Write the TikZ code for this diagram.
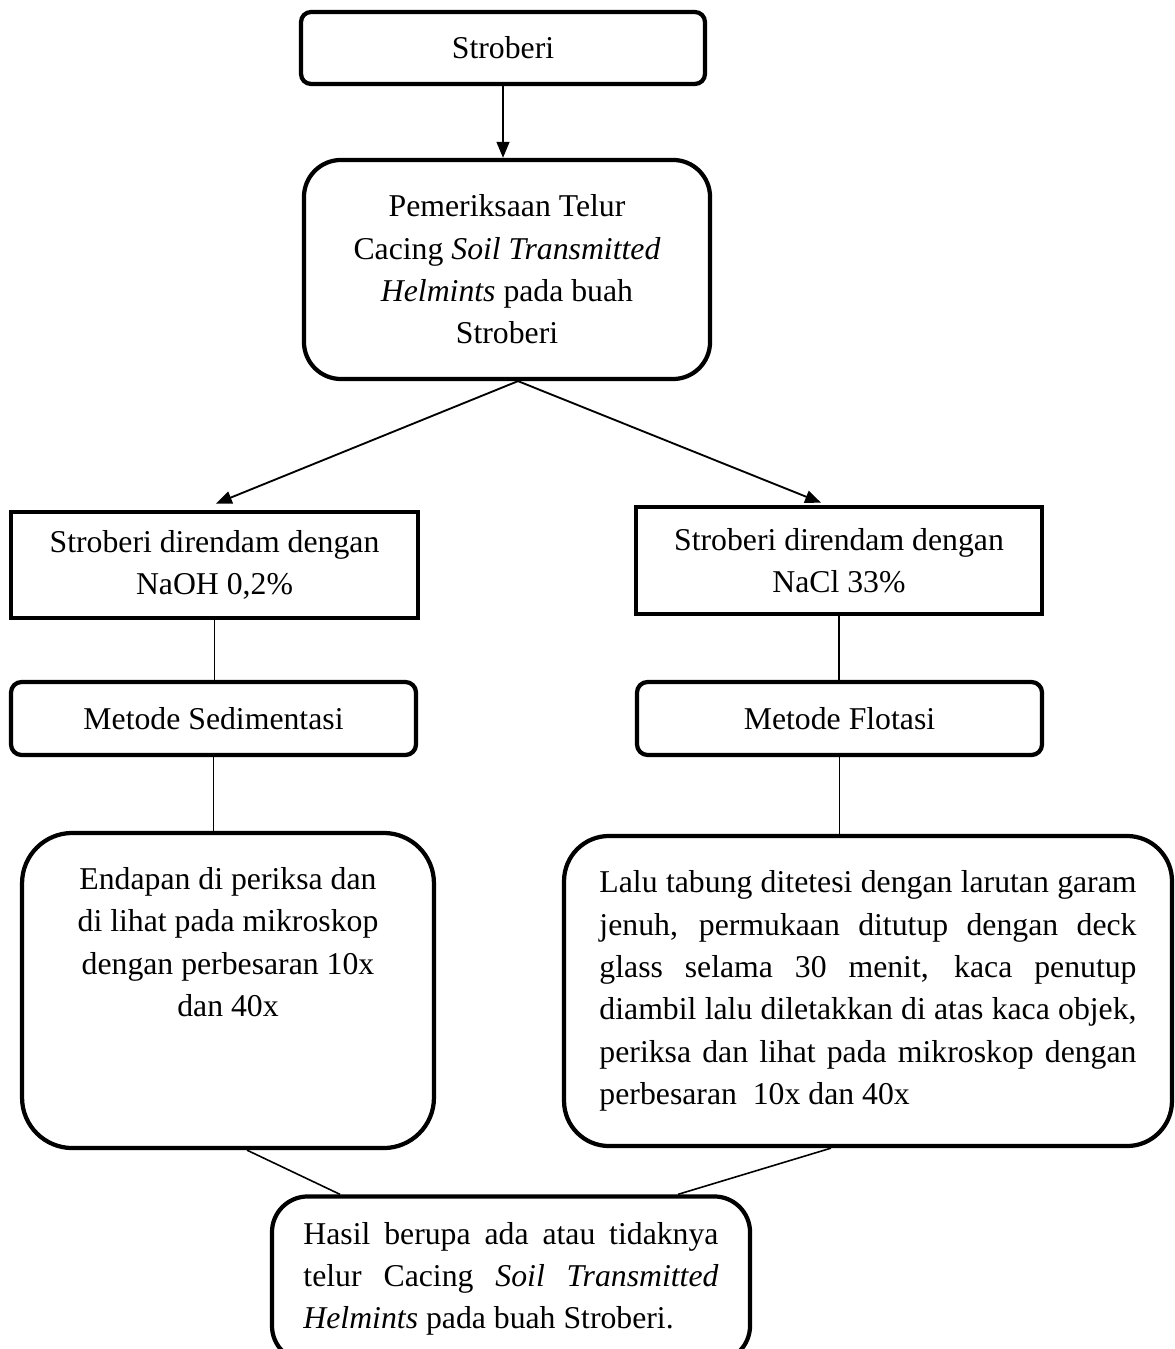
\documentclass[tikz,border=0pt]{standalone}
\usepackage{fontspec}
\setmainfont{Liberation Serif}
\usepackage{tikz}
\usetikzlibrary{arrows.meta, calc}
\hbadness=10000
\tolerance=10000

\begin{document}
\begin{tikzpicture}[
    x=0.378pt, y=-0.378pt, font=\fontsize{12}{16}\selectfont,
    kotak/.style={draw=black, line width=1.6pt, inner sep=0pt},
    bulat/.style={kotak, rounded corners=#1},
    bulat/.default=4pt,
    panah/.style={-{Triangle[length=6pt, width=4.8pt]}, line width=0.7pt},
    garis/.style={line width=0.6pt},
]
\useasboundingbox (0,0) rectangle (1174,1349);

% ===================== Bahan dan pemeriksaan =====================
\node[bulat=3.8pt, minimum width=152.7pt, minimum height=27.2pt]
      (stroberi) at (503,48) {Stroberi};
\node[bulat=14pt, minimum width=153.5pt, minimum height=82.8pt, align=center]
      (periksa) at (507,269.5)
      {Pemeriksaan Telur\\ Cacing \textit{Soil Transmitted}\\
       \textit{Helmints} pada buah\\ Stroberi};

% ===================== Perendaman =====================
\node[kotak, line width=1.8pt, minimum width=153.8pt, minimum height=40.1pt,
      align=center]
      (naoh) at (214.5,565) {Stroberi direndam dengan\\ NaOH 0,2\%};
\node[kotak, line width=1.8pt, minimum width=153.5pt, minimum height=40.4pt,
      align=center]
      (nacl) at (839,560.5) {Stroberi direndam dengan\\ NaCl 33\%};

% ===================== Metode =====================
\node[bulat, minimum width=153.1pt, minimum height=27.6pt]
      (sedimen) at (213.5,718.5) {Metode Sedimentasi};
\node[bulat, minimum width=153.1pt, minimum height=27.6pt]
      (flotasi) at (839.5,718.5) {Metode Flotasi};

% ===================== Pengamatan =====================
% Teks endapan menempel di atas kotak, bukan di tengah.
\node[bulat=19pt, minimum width=155.7pt, minimum height=119.1pt]
      (endapan) at (228,990.5) {};
\node[align=center, anchor=north, inner sep=0pt]
      (endapanteks) at ($(endapan.north)+(0,36)$)
      {Endapan di periksa dan\\ di lihat pada mikroskop\\
       dengan perbesaran 10x\\ dan 40x};

\node[bulat=17pt, minimum width=229.8pt, minimum height=117.2pt,
      text width=203pt, align=justify]
      (lalu) at (868,991)
      {Lalu tabung ditetesi dengan larutan garam\linebreak
       jenuh, permukaan ditutup dengan deck\linebreak
       glass selama 30 menit, kaca penutup\linebreak
       diambil lalu diletakkan di atas kaca objek,\linebreak
       periksa dan lihat pada mikroskop dengan\linebreak
       perbesaran\ \ 10x dan 40x};

% ===================== Hasil =====================
\node[bulat=13.5pt, minimum width=180.7pt, minimum height=62.4pt,
      text width=156.9pt, align=justify]
      (hasil) at (511,1279)
      {Hasil berupa ada atau tidaknya\linebreak
       telur Cacing \textit{Soil Transmitted}\linebreak
       \textit{Helmints} pada buah Stroberi.};

% ===================== Penghubung =====================
\draw[panah] (stroberi.south) -- (stroberi.south |- periksa.north);
\draw[panah] ($(periksa.south)+(11,0)$) -- ($(naoh.north)+(1.5,-6)$);
\draw[panah] ($(periksa.south)+(11,0)$) -- ($(nacl.north)+(-18,-2)$);

\draw[garis] (naoh.south) -- (naoh.south |- sedimen.north);
\draw[garis] (nacl.south) -- (nacl.south |- flotasi.north);
\draw[garis] (sedimen.south) -- (sedimen.south |- endapan.north);
\draw[garis] (flotasi.south) -- (flotasi.south |- lalu.north);

\draw[garis] ($(endapan.south)+(19,0)$) -- ($(hasil.north)+(-171,0)$);
\draw[garis] ($(lalu.south)+(-37,0)$) -- ($(hasil.north)+(167,0)$);

\end{tikzpicture}
\end{document}
